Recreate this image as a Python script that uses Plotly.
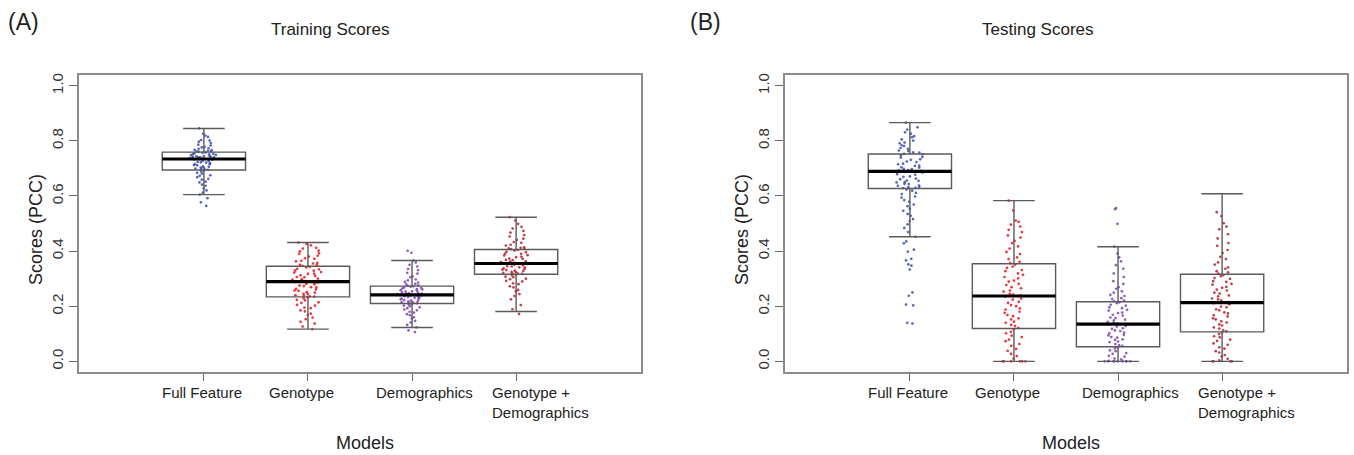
import plotly.graph_objects as go

# ---------------- data ----------------
categories = ["Full Feature", "Genotype", "Demographics", "Genotype +<br>Demographics"]
point_colors = ["#3b4fae", "#e8141c", "#7b44b6", "#b3202e"]
panel_titles = ["Training Scores", "Testing Scores"]
panel_letters = ["(A)", "(B)"]
y_tick_vals = [0.0, 0.2, 0.4, 0.6, 0.8, 1.0]
y_tick_text = ["0.0", "0.2", "0.4", "0.6", "0.8", "1.0"]

train_q1 = [0.694, 0.234, 0.210, 0.316]
train_median = [0.734, 0.289, 0.241, 0.355]
train_q3 = [0.759, 0.345, 0.273, 0.406]
train_low = [0.605, 0.117, 0.123, 0.181]
train_high = [0.845, 0.431, 0.366, 0.523]

test_q1 = [0.627, 0.119, 0.053, 0.107]
test_median = [0.689, 0.237, 0.135, 0.213]
test_q3 = [0.752, 0.354, 0.216, 0.316]
test_low = [0.452, 0.0, 0.0, 0.0]
test_high = [0.866, 0.583, 0.416, 0.608]

train_full = [0.845, 0.826, 0.819, 0.814, 0.803, 0.797, 0.801, 0.792, 0.786, 0.783, 0.778, 0.776, 0.773, 0.771, 0.767, 0.766, 0.764, 0.762, 0.761, 0.760,
              0.758, 0.757, 0.755, 0.752, 0.751, 0.749, 0.748, 0.745, 0.745, 0.743, 0.742, 0.740, 0.740, 0.739, 0.737, 0.737, 0.736, 0.735, 0.744, 0.753,
              0.733, 0.732, 0.728, 0.727, 0.724, 0.721, 0.719, 0.716, 0.715, 0.712, 0.711, 0.707, 0.706, 0.703, 0.702, 0.699, 0.698, 0.696, 0.695, 0.722,
              0.692, 0.689, 0.684, 0.681, 0.675, 0.673, 0.668, 0.662, 0.659, 0.652, 0.649, 0.641, 0.637, 0.627, 0.620, 0.612, 0.605, 0.592, 0.577, 0.564]
train_geno = [0.431, 0.426, 0.421, 0.412, 0.409, 0.402, 0.399, 0.392, 0.390, 0.383, 0.380, 0.374, 0.372, 0.365, 0.363, 0.357, 0.355, 0.350, 0.349, 0.346,
              0.343, 0.341, 0.336, 0.334, 0.330, 0.329, 0.324, 0.322, 0.318, 0.317, 0.312, 0.310, 0.306, 0.305, 0.300, 0.298, 0.297, 0.293, 0.291, 0.290,
              0.288, 0.286, 0.281, 0.280, 0.275, 0.273, 0.269, 0.268, 0.263, 0.261, 0.257, 0.256, 0.251, 0.249, 0.245, 0.244, 0.240, 0.238, 0.236, 0.235,
              0.232, 0.229, 0.223, 0.221, 0.214, 0.212, 0.205, 0.202, 0.195, 0.193, 0.185, 0.181, 0.173, 0.168, 0.159, 0.153, 0.143, 0.137, 0.126, 0.117]
train_demo = [0.401, 0.394, 0.366, 0.359, 0.350, 0.344, 0.335, 0.331, 0.321, 0.318, 0.308, 0.305, 0.297, 0.294, 0.288, 0.286, 0.281, 0.279, 0.276, 0.274,
              0.272, 0.271, 0.268, 0.267, 0.264, 0.262, 0.261, 0.258, 0.257, 0.254, 0.253, 0.250, 0.250, 0.247, 0.246, 0.245, 0.244, 0.243, 0.242, 0.242,
              0.240, 0.239, 0.238, 0.236, 0.236, 0.233, 0.231, 0.230, 0.228, 0.226, 0.225, 0.222, 0.221, 0.219, 0.217, 0.216, 0.214, 0.213, 0.212, 0.211,
              0.208, 0.206, 0.202, 0.200, 0.196, 0.193, 0.188, 0.185, 0.180, 0.177, 0.171, 0.167, 0.160, 0.155, 0.147, 0.141, 0.132, 0.123, 0.112, 0.106]
train_both = [0.523, 0.511, 0.499, 0.488, 0.482, 0.473, 0.467, 0.458, 0.453, 0.445, 0.441, 0.433, 0.430, 0.423, 0.420, 0.414, 0.412, 0.410, 0.408, 0.407,
              0.404, 0.402, 0.398, 0.396, 0.391, 0.390, 0.385, 0.384, 0.379, 0.378, 0.373, 0.372, 0.368, 0.367, 0.363, 0.362, 0.360, 0.358, 0.357, 0.356,
              0.354, 0.353, 0.350, 0.349, 0.345, 0.344, 0.341, 0.340, 0.337, 0.336, 0.333, 0.331, 0.329, 0.328, 0.325, 0.323, 0.321, 0.320, 0.318, 0.317,
              0.314, 0.312, 0.307, 0.305, 0.300, 0.298, 0.292, 0.290, 0.283, 0.280, 0.272, 0.268, 0.259, 0.254, 0.244, 0.237, 0.225, 0.204, 0.189, 0.172]

test_full = [0.866, 0.849, 0.841, 0.831, 0.826, 0.817, 0.813, 0.805, 0.801, 0.794, 0.791, 0.784, 0.781, 0.774, 0.771, 0.765, 0.763, 0.758, 0.757, 0.753,
             0.751, 0.747, 0.741, 0.739, 0.733, 0.731, 0.725, 0.723, 0.717, 0.715, 0.710, 0.709, 0.704, 0.703, 0.698, 0.697, 0.694, 0.693, 0.691, 0.690,
             0.688, 0.685, 0.679, 0.677, 0.671, 0.669, 0.663, 0.661, 0.656, 0.655, 0.650, 0.649, 0.644, 0.643, 0.638, 0.637, 0.633, 0.632, 0.629, 0.628,
             0.623, 0.619, 0.611, 0.607, 0.598, 0.594, 0.585, 0.579, 0.569, 0.563, 0.553, 0.546, 0.535, 0.528, 0.516, 0.509, 0.497, 0.484, 0.469, 0.452,
             0.435, 0.428, 0.405, 0.398, 0.372, 0.366, 0.352, 0.347, 0.333, 0.250, 0.238, 0.206, 0.203, 0.140, 0.137]
test_geno = [0.583, 0.547, 0.511, 0.506, 0.496, 0.489, 0.477, 0.469, 0.457, 0.449, 0.437, 0.429, 0.417, 0.409, 0.397, 0.389, 0.377, 0.371, 0.361, 0.356,
             0.351, 0.344, 0.339, 0.331, 0.327, 0.319, 0.314, 0.306, 0.301, 0.293, 0.289, 0.281, 0.277, 0.269, 0.265, 0.257, 0.253, 0.245, 0.242, 0.239,
             0.235, 0.228, 0.224, 0.216, 0.212, 0.204, 0.200, 0.192, 0.188, 0.180, 0.176, 0.168, 0.164, 0.156, 0.152, 0.144, 0.140, 0.132, 0.128, 0.121,
             0.116, 0.107, 0.102, 0.093, 0.088, 0.079, 0.073, 0.063, 0.056, 0.045, 0.038, 0.027, 0.019, 0.009, 0.0, 0.0, 0.0, 0.0, 0.0, 0.0]
test_demo = [0.416, 0.391, 0.377, 0.363, 0.349, 0.336, 0.319, 0.306, 0.291, 0.281, 0.269, 0.263, 0.254, 0.249, 0.241, 0.237, 0.229, 0.226, 0.220, 0.218,
             0.214, 0.211, 0.205, 0.202, 0.196, 0.193, 0.187, 0.184, 0.177, 0.175, 0.169, 0.166, 0.159, 0.157, 0.151, 0.149, 0.143, 0.141, 0.138, 0.136,
             0.133, 0.128, 0.126, 0.120, 0.118, 0.112, 0.110, 0.104, 0.102, 0.096, 0.094, 0.088, 0.086, 0.080, 0.078, 0.072, 0.070, 0.063, 0.059, 0.056,
             0.050, 0.047, 0.040, 0.037, 0.030, 0.027, 0.020, 0.017, 0.010, 0.007, 0.002, 0.0, 0.0, 0.0, 0.0, 0.0, 0.0, 0.0, 0.0, 0.0,
             0.556, 0.552, 0.499]
test_both = [0.541, 0.527, 0.501, 0.489, 0.479, 0.461, 0.446, 0.429, 0.419, 0.404, 0.393, 0.379, 0.371, 0.359, 0.351, 0.341, 0.336, 0.327, 0.323, 0.318,
             0.313, 0.309, 0.302, 0.299, 0.291, 0.288, 0.281, 0.278, 0.270, 0.267, 0.260, 0.257, 0.249, 0.246, 0.239, 0.236, 0.228, 0.225, 0.220, 0.215,
             0.211, 0.207, 0.199, 0.196, 0.189, 0.185, 0.178, 0.174, 0.167, 0.163, 0.156, 0.152, 0.145, 0.141, 0.134, 0.130, 0.123, 0.119, 0.112, 0.109,
             0.104, 0.099, 0.091, 0.087, 0.079, 0.074, 0.065, 0.060, 0.051, 0.046, 0.037, 0.032, 0.023, 0.018, 0.009, 0.004, 0.0, 0.0, 0.0, 0.0]

# ---------------- style / layout ----------------
W, H = 1354, 455
FONT = "Liberation Sans, Arial, Helvetica, sans-serif"
TEXT = "#222222"
BOX_W = 0.8
JITTER = 0.38
positions = list(range(len(categories)))
label_offsets = [-0.023, -0.06, 0.115]      # centre offsets of the first three tick labels
last_label_left = -0.254                     # left edge of the two-line label
x_domains = [[79 / W, 641 / W], [785 / W, 1347 / W]]
y_domain = [(H - 372) / H, (H - 73) / H]
title_x_px = [330, 1038]
letter_x_px = [6, 688]

panels = [
    dict(points=[train_full, train_geno, train_demo, train_both],
         q1=train_q1, med=train_median, q3=train_q3, lo=train_low, hi=train_high),
    dict(points=[test_full, test_geno, test_demo, test_both],
         q1=test_q1, med=test_median, q3=test_q3, lo=test_low, hi=test_high),
]

fig = go.Figure()
annotations = []

for k, p in enumerate(panels):
    xa = "x" if k == 0 else "x2"
    ya = "y" if k == 0 else "y2"
    # jittered points (invisible box, points only)
    for i, pts in enumerate(p["points"]):
        fig.add_trace(go.Box(
            x=[positions[i]] * len(pts), y=pts, xaxis=xa, yaxis=ya,
            boxpoints="all", jitter=JITTER, pointpos=0, width=BOX_W,
            line=dict(color="rgba(0,0,0,0)", width=0), fillcolor="rgba(0,0,0,0)",
            marker=dict(size=2.7, color=point_colors[i], opacity=0.85),
            showlegend=False, hoverinfo="y"))
    # box outlines from summary statistics
    fig.add_trace(go.Box(
        x=positions, q1=p["q1"], median=p["med"], q3=p["q3"],
        lowerfence=p["lo"], upperfence=p["hi"], xaxis=xa, yaxis=ya,
        width=BOX_W, whiskerwidth=0.5, boxpoints=False,
        line=dict(color="#5a5a5a", width=1.4), fillcolor="rgba(0,0,0,0)",
        showlegend=False, hoverinfo="skip"))
    # thick median bars
    mx, my = [], []
    for pos, m in zip(positions, p["med"]):
        mx += [pos - BOX_W / 2, pos + BOX_W / 2, None]
        my += [m, m, None]
    fig.add_trace(go.Scatter(x=mx, y=my, xaxis=xa, yaxis=ya, mode="lines",
                             line=dict(color="black", width=3.2),
                             showlegend=False, hoverinfo="skip"))

    # category labels
    for i, cat in enumerate(categories):
        if i < len(label_offsets):
            annotations.append(dict(x=positions[i] + label_offsets[i], y=(H - 382) / H,
                                    xref=xa, yref="paper", text=cat, showarrow=False,
                                    xanchor="center", yanchor="top",
                                    font=dict(size=15, color=TEXT, family=FONT)))
        else:
            annotations.append(dict(x=positions[i] + last_label_left, y=(H - 382) / H,
                                    xref=xa, yref="paper", text=cat, showarrow=False,
                                    xanchor="left", yanchor="top", align="left",
                                    font=dict(size=15, color=TEXT, family=FONT)))
    dom = x_domains[k]
    left_px = dom[0] * W
    centre_px = (dom[0] + dom[1]) / 2 * W
    annotations.append(dict(x=(centre_px + 5) / W, y=1 - 442.5 / H, xref="paper", yref="paper",
                            text="Models", showarrow=False, xanchor="center", yanchor="middle",
                            font=dict(size=18, color=TEXT, family=FONT)))
    annotations.append(dict(x=(left_px - 43) / W, y=1 - 229 / H, xref="paper", yref="paper",
                            text="Scores (PCC)", showarrow=False, textangle=-90,
                            xanchor="center", yanchor="middle",
                            font=dict(size=18, color=TEXT, family=FONT)))
    annotations.append(dict(x=title_x_px[k] / W, y=1 - 28 / H, xref="paper", yref="paper",
                            text=panel_titles[k], showarrow=False, xanchor="center", yanchor="middle",
                            font=dict(size=17, color=TEXT, family=FONT)))
    annotations.append(dict(x=letter_x_px[k] / W, y=1 - 20 / H, xref="paper", yref="paper",
                            text=panel_letters[k], showarrow=False, xanchor="left", yanchor="middle",
                            font=dict(size=23, color=TEXT, family=FONT)))

xaxis_common = dict(range=[-1.2, 4.2], tickvals=positions, showticklabels=False,
                    ticks="outside", ticklen=7, tickcolor="#666", tickwidth=1,
                    showgrid=False, zeroline=False, showline=True, linecolor="#8c8c8c",
                    linewidth=1.8, mirror=True, fixedrange=True)
yaxis_common = dict(range=[-0.04, 1.04], tickvals=y_tick_vals, ticktext=y_tick_text,
                    tickangle=-90, ticks="outside", ticklen=8, tickcolor="#666", tickwidth=1,
                    tickfont=dict(size=15, color="#333", family=FONT),
                    showgrid=False, zeroline=False, showline=True, linecolor="#8c8c8c",
                    linewidth=1.8, mirror=True, fixedrange=True)

fig.update_layout(
    width=W, height=H, margin=dict(l=0, r=0, t=0, b=0),
    paper_bgcolor="white", plot_bgcolor="white", boxmode="overlay",
    font=dict(family=FONT, color=TEXT),
    xaxis=dict(domain=x_domains[0], anchor="y", **xaxis_common),
    yaxis=dict(domain=y_domain, anchor="x", **yaxis_common),
    xaxis2=dict(domain=x_domains[1], anchor="y2", **xaxis_common),
    yaxis2=dict(domain=y_domain, anchor="x2", **yaxis_common),
    annotations=annotations,
    showlegend=False,
)

fig.write_html("out.html")
